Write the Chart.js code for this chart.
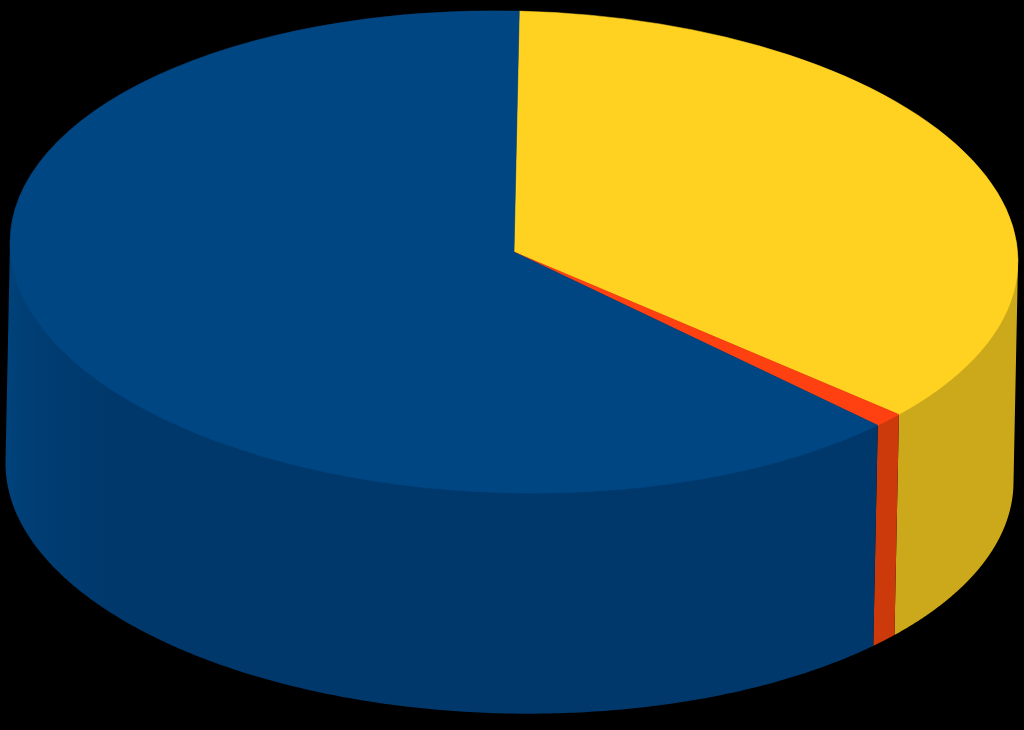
<!DOCTYPE html>
<html>
<head>
<meta charset="utf-8">
<style>html,body{margin:0;padding:0;background:#000;overflow:hidden}canvas{display:block}</style>
<script src="https://cdn.jsdelivr.net/npm/chart.js@4/dist/chart.umd.min.js"></script>
</head>
<body>
<canvas id="c" width="1024" height="730"></canvas>
<script>
const categories = ['Segment A', 'Segment B', 'Segment C'];
const values = [36, 1, 63];
const topColors = ['#FFD121', '#FF4010', '#004683'];
const sideColors = ['#CCA91B', '#CC3A0B', '#00386B'];

const tilt = { cx: 514, cy: 252, rx: 504, ry: 241, shear: 0.018, dx: -4.5, dy: 220.5 };

function ellipseTransform(ctx, arc) {
  const k = 1 / arc.outerRadius;
  ctx.translate(tilt.cx, tilt.cy);
  ctx.transform(tilt.rx * k, tilt.shear * tilt.rx * k, 0, tilt.ry * k, 0, 0);
  ctx.translate(-arc.x, -arc.y);
}
function rimPoint(angle, scale) {
  const x = tilt.rx * Math.cos(angle), y = tilt.ry * Math.sin(angle) + tilt.shear * x;
  return [tilt.cx + x * scale, tilt.cy + y * scale];
}
const pie3d = {
  id: 'pie3d',
  beforeDatasetsDraw(chart) {
    const ctx = chart.ctx;
    const arcs = chart.getDatasetMeta(0).data;
    const t0 = Math.atan2(-tilt.dx * tilt.ry, tilt.rx * (tilt.dy - tilt.shear * tilt.dx));
    ctx.save();
    arcs.forEach((arc, i) => {
      const a0 = Math.max(arc.startAngle, t0), a1 = Math.min(arc.endAngle, t0 + Math.PI);
      if (a1 <= a0) return;
      const steps = 240;
      ctx.beginPath();
      const first = rimPoint(a0, 1), last = rimPoint(a1, 1);
      ctx.moveTo(first[0], first[1]);
      for (let s = 0; s <= steps; s++) {
        const p = rimPoint(a0 + (a1 - a0) * s / steps, 0.99);
        ctx.lineTo(p[0], p[1]);
      }
      ctx.lineTo(last[0], last[1]);
      for (let s = steps; s >= 0; s--) {
        const p = rimPoint(a0 + (a1 - a0) * s / steps, 1);
        ctx.lineTo(p[0] + tilt.dx, p[1] + tilt.dy);
      }
      ctx.closePath();
      if (i === 2) {
        const g = ctx.createLinearGradient(6, 0, 1024, 0);
        g.addColorStop(0, '#00427A');
        g.addColorStop(0.03, '#003D73');
        g.addColorStop(0.1, '#00386B');
        g.addColorStop(1, sideColors[2]);
        ctx.fillStyle = g;
      } else {
        ctx.fillStyle = sideColors[i];
      }
      ctx.fill();
    });
    ctx.restore();
    ctx.save();
    ellipseTransform(ctx, arcs[0]);
  },
  afterDatasetsDraw(chart) {
    chart.ctx.restore();
  }
};
new Chart(document.getElementById('c'), {
  type: 'pie',
  data: {
    labels: categories,
    datasets: [{ data: values, backgroundColor: topColors, borderColor: topColors, borderWidth: 0.5, hoverOffset: 0 }]
  },
  options: {
    responsive: false,
    animation: false,
    rotation: 0.6,
    layout: { padding: 0 },
    plugins: { legend: { display: false }, tooltip: { enabled: false }, title: { display: false } }
  },
  plugins: [pie3d]
});
</script>
</body>
</html>
